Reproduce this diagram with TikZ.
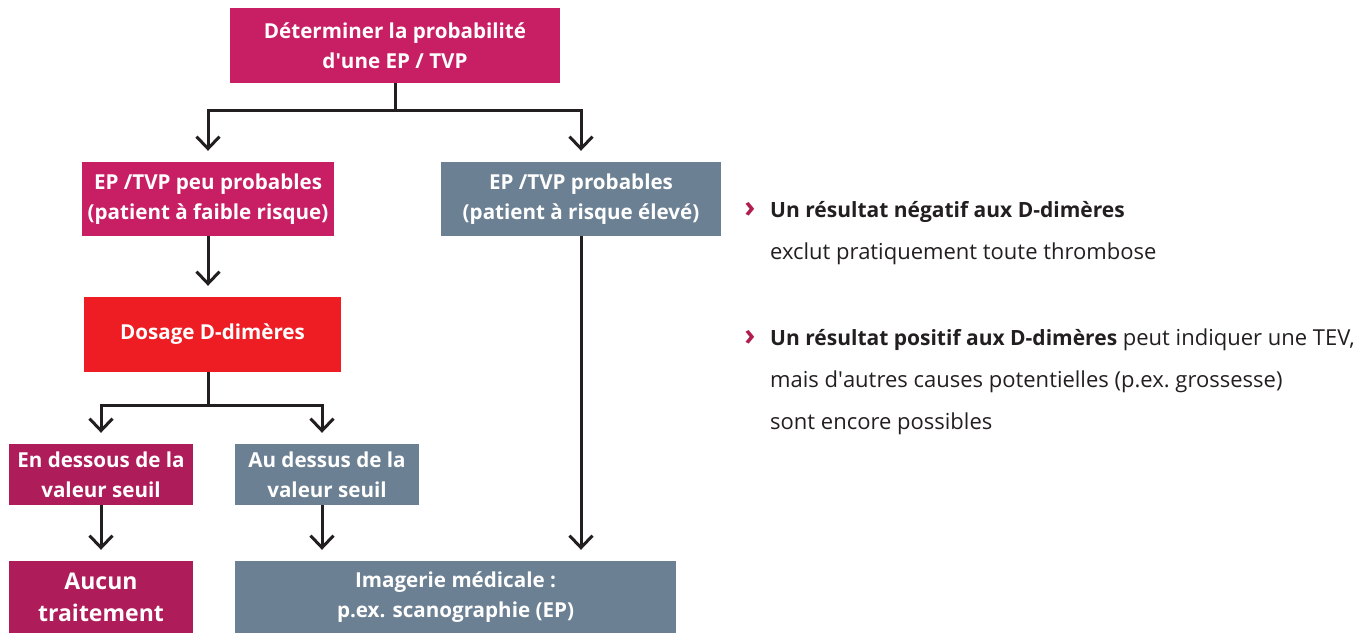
\documentclass[tikz,border=0pt]{standalone}
\usepackage{fontspec}
\setmainfont{Open Sans}
\usepackage{tikz}
\usetikzlibrary{calc}
\usetikzlibrary{arrows.meta}
\definecolor{magbox}{HTML}{C81E64}
\definecolor{darkmag}{HTML}{AE1C5A}
\definecolor{greybox}{HTML}{6B8092}
\definecolor{redbox}{HTML}{EE1D24}
\definecolor{chevcol}{HTML}{B01E4E}
\definecolor{linecol}{HTML}{231F20}
\tikzset{
    box/.style={fill=#1, text=white, font=\bfseries\fontsize{20.6}{30}\selectfont, align=center, inner sep=0pt},
    arr/.style={draw=linecol, line width=3pt, -{Straight Barb[length=12pt, width=23pt, line width=3pt]}, shorten >=11pt},
    note/.style={anchor=base west, align=left, inner sep=0pt, font=\fontsize{22}{42}\selectfont, text=linecol},
    chevnode/.style={inner sep=0pt, text=chevcol, font=\bfseries\fontsize{30}{30}\selectfont},
}
\newcommand{\hl}[1]{{\bfseries\fontsize{21}{42}\selectfont #1}}
\newcommand{\ap}{\textquotesingle}

\begin{document}
\begin{tikzpicture}[x=1pt, y=-1pt]
        \useasboundingbox (0,0) rectangle (1369,633);
        % row 1
        \node[box=magbox, minimum width=330pt, minimum height=75pt] (top) at (395,45.5) {Déterminer la probabilité\\d\ap une EP / TVP};
        % row 2
        \node[box=magbox, minimum width=252pt, minimum height=74pt] (peu) at (208,199) {EP /TVP peu probables\\(patient à faible risque)};
        \node[box=greybox, minimum width=280pt, minimum height=74pt] (prob) at (581,199) {EP /TVP probables\\(patient à risque élevé)};
        % row 3
        \node[box=redbox, minimum width=257pt, minimum height=75pt] (dosage) at (212.5,334.5) {Dosage D-dimères};
        % row 4
        \node[box=darkmag, minimum width=184pt, minimum height=61pt] (dessous) at (101,474.5) {En dessous de la\\valeur seuil};
        \node[box=greybox, minimum width=184pt, minimum height=61pt] (dessus) at (327,474.5) {Au dessus de la\\valeur seuil};
        % row 5
        \node[box=darkmag, minimum width=184pt, minimum height=72pt, font=\bfseries\fontsize{23}{32}\selectfont] (aucun) at (101,597) {Aucun\\traitement};
        \node[box=greybox, minimum width=441pt, minimum height=72pt] (imagerie) at (455.5,597) {Imagerie médicale :\\p.ex. scanographie (EP)};
        % arrows
        \draw[arr] (top.south) -- ++(0,27) -| (peu.north);
        \draw[arr] (top.south) -- ++(0,27) -| (prob.north);
        \draw[arr] (peu.south) -- (peu.south |- dosage.north);
        \coordinate (dosout) at (peu.south |- dosage.south);
        \draw[arr] (dosout) -- ++(0,33) -| (dessous.north);
        \draw[arr] (dosout) -- ++(0,33) -| ([xshift=-5pt]dessus.north);
        \draw[arr] (dessous.south) -- (aucun.north);
        \draw[arr] ([xshift=-5pt]dessus.south) -- ([xshift=-5pt]dessus.south |- imagerie.north);
        \draw[arr] (prob.south) -- (prob.south |- imagerie.north);
        % notes
        \node[note] (note1) at (770,259) {\hl{Un résultat négatif aux D-dimères}\\exclut pratiquement toute thrombose};
        \node[note] (note2) at (770,429) {\hl{Un résultat positif aux D-dimères} peut indiquer une TEV,\\mais d\ap autres causes potentielles (p.ex.\ grossesse)\\sont encore possibles};
        \node[chevnode] (chev1) at (750,209.5) {›};
        \node[chevnode] (chev2) at (750,337.5) {›};
\end{tikzpicture}
\end{document}
